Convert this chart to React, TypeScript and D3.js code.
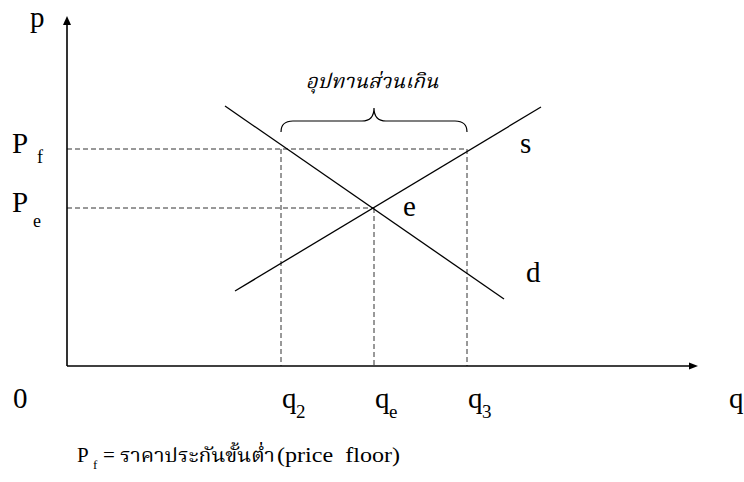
import React from "react";
import * as d3 from "d3";

// ---- data (quantity / price units measured from the origin) ----
const qMax = 631;
const pMax = 350;
const quantityTicks = [
  { name: "q2", base: "q", sub: "2", q: 214 },
  { name: "qe", base: "q", sub: "e", q: 307 },
  { name: "q3", base: "q", sub: "3", q: 400 },
];
const priceLevels = [
  { name: "Pf", base: "P", sub: "f", p: 217, toQ: 400 },
  { name: "Pe", base: "P", sub: "e", p: 158, toQ: 307 },
];
const demandLine = [
  { q: 158, p: 260 },
  { q: 437, p: 67 },
];
const supplyLine = [
  { q: 168, p: 75 },
  { q: 474, p: 259 },
];
const equilibrium = { q: 307, p: 158 };
const surplusFrom = 214;
const surplusTo = 400;
const surplusLabel = "อุปทานส่วนเกิน";
const noteThai = "ราคาประกันขั้นต่ำ";
const noteEng = "(price  floor)";

const W = 744;
const H = 482;
const serif = "'Liberation Serif', 'Times New Roman', Times, serif";
const thaiFont =
  "'Noto Serif Thai', 'Noto Sans Thai', Norasi, Garuda, Loma, 'Tlwg Typo', 'Liberation Serif', serif";

const S = (size: number, family = serif): React.CSSProperties => ({
  fontFamily: family,
  fontSize: size,
});

export default function App() {
  const x = d3.scaleLinear().domain([0, qMax]).range([67, 698]);
  const y = d3.scaleLinear().domain([0, pMax]).range([366, 16]);
  const line = d3
    .line<{ q: number; p: number }>()
    .x((d) => x(d.q))
    .y((d) => y(d.p));

  const x0 = x(0);
  const y0 = y(0);
  const xEnd = x(qMax);
  const yEnd = y(pMax);

  const bx1 = x(surplusFrom);
  const bx2 = x(surplusTo);
  const bm = (bx1 + bx2) / 2;
  const byEnd = 132;
  const byMid = 121;
  const byPeak = 108;
  const brace = `M${bx1},${byEnd} Q${bx1},${byMid} ${bx1 + 12},${byMid} L${bm - 12},${byMid} Q${bm},${byMid} ${bm},${byPeak} Q${bm},${byMid} ${bm + 12},${byMid} L${bx2 - 12},${byMid} Q${bx2},${byMid} ${bx2},${byEnd}`;

  const dash = "5,3";
  const dashColor = "#333";

  return (
    <svg
      width={W}
      height={H}
      style={{ position: "absolute", left: 0, top: 0, background: "#fff" }}
    >
      <rect width={W} height={H} fill="#fff" />

      {/* dashed guide lines */}
      {priceLevels.map((d) => (
        <line
          key={d.name + "h"}
          x1={x0}
          x2={x(d.toQ)}
          y1={y(d.p)}
          y2={y(d.p)}
          stroke={dashColor}
          strokeWidth={1}
          strokeDasharray={dash}
        />
      ))}
      {quantityTicks.map((d) => {
        const top = d.name === "qe" ? priceLevels[1].p : priceLevels[0].p;
        return (
          <line
            key={d.name + "v"}
            x1={x(d.q)}
            x2={x(d.q)}
            y1={y(top)}
            y2={y0}
            stroke={dashColor}
            strokeWidth={1}
            strokeDasharray={dash}
          />
        );
      })}

      {/* demand and supply */}
      <path d={line(demandLine) || ""} fill="none" stroke="#000" strokeWidth={1.3} />
      <path d={line(supplyLine) || ""} fill="none" stroke="#000" strokeWidth={1.3} />

      {/* axes */}
      <line x1={x0} x2={x0} y1={y0} y2={yEnd + 6} stroke="#000" strokeWidth={1.6} />
      <line x1={x0} x2={xEnd - 6} y1={y0} y2={y0} stroke="#000" strokeWidth={1.6} />
      <path d={`M${x0},${yEnd} L${x0 - 4},${yEnd + 9} L${x0 + 4},${yEnd + 9} Z`} fill="#000" />
      <path d={`M${xEnd},${y0} L${xEnd - 9},${y0 - 3.5} L${xEnd - 9},${y0 + 3.5} Z`} fill="#000" />

      {/* brace */}
      <path d={brace} fill="none" stroke="#000" strokeWidth={1.2} />
      <text
        x={bm - 2}
        y={88}
        textAnchor="middle"
        style={{ ...S(20, thaiFont), fontStyle: "italic" }}
        textLength={133}
        lengthAdjust="spacingAndGlyphs"
      >
        {surplusLabel}
      </text>

      {/* axis labels */}
      <text x={30} y={27} style={S(29)}>p</text>
      <text x={13} y={408} style={S(29)}>0</text>
      <text x={729} y={408} style={S(29)}>q</text>

      {priceLevels.map((d) => (
        <text key={d.name + "t"} style={S(29)}>
          <tspan x={12} y={y(d.p) + 4}>{d.base}</tspan>
          <tspan
            x={d.sub === "f" ? 37 : 33}
            y={y(d.p) + (d.sub === "f" ? 14 : 19)}
            style={{ fontSize: 18 }}
          >
            {d.sub}
          </tspan>
        </text>
      ))}

      {quantityTicks.map((d) => (
        <text key={d.name + "t"} style={S(29)}>
          <tspan x={x(d.q) + 1} y={408}>{d.base}</tspan>
          <tspan x={x(d.q) + 15} y={418} style={{ fontSize: 19 }}>{d.sub}</tspan>
        </text>
      ))}

      {/* curve labels */}
      <text x={x(equilibrium.q) + 29} y={216} style={S(29)}>e</text>
      <text x={520} y={153} style={S(29)}>s</text>
      <text x={526} y={282} style={S(29)}>d</text>

      {/* note */}
      <text style={S(21)}>
        <tspan x={77} y={462}>P</tspan>
        <tspan x={93} y={469} style={{ fontSize: 13 }}>f</tspan>
        <tspan x={103} y={462}>=</tspan>
      </text>
      <text
        x={120}
        y={462}
        style={S(19, thaiFont)}
        textLength={155}
        lengthAdjust="spacingAndGlyphs"
      >
        {noteThai}
      </text>
      <text
        x={277}
        y={462}
        style={{ ...S(22), whiteSpace: "pre" }}
        textLength={123}
        lengthAdjust="spacingAndGlyphs"
      >
        {noteEng}
      </text>
    </svg>
  );
}
